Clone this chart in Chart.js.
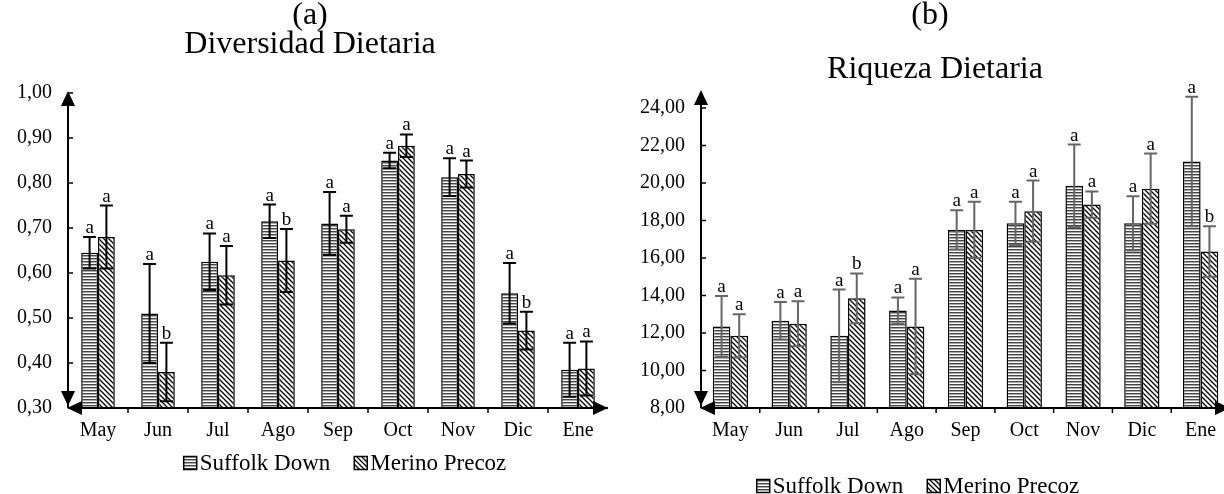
<!DOCTYPE html>
<html>
<head>
<meta charset="utf-8">
<script src="https://cdn.jsdelivr.net/npm/chart.js@4.4.1/dist/chart.umd.min.js"></script>
<style>
html, body { margin: 0; padding: 0; background: #fff; overflow: hidden; width: 1224px; height: 494px; }
#wa { position: absolute; left: 0; top: 0; width: 620px; height: 494px; }
#wb { position: absolute; left: 620px; top: 0; width: 630px; height: 494px; }
</style>
</head>
<body>
<div id="wa"><canvas id="chartA" width="620" height="494"></canvas></div>
<div id="wb"><canvas id="chartB" width="630" height="494"></canvas></div>
<script>
var months = ['May', 'Jun', 'Jul', 'Ago', 'Sep', 'Oct', 'Nov', 'Dic', 'Ene'];
var seriesNames = ['Suffolk Down', 'Merino Precoz'];

// (a) Diversidad Dietaria
var divTicks = [0.30, 0.40, 0.50, 0.60, 0.70, 0.80, 0.90, 1.00];
var divSuffolk = [0.645, 0.51, 0.625, 0.715, 0.71, 0.85, 0.813, 0.555, 0.385];
var divSuffolkErr = [0.035, 0.11, 0.063, 0.037, 0.07, 0.017, 0.042, 0.067, 0.06];
var divMerino = [0.68, 0.38, 0.595, 0.628, 0.697, 0.883, 0.82, 0.472, 0.388];
var divMerinoErr = [0.07, 0.065, 0.065, 0.07, 0.03, 0.025, 0.03, 0.042, 0.06];
var divSuffolkLetters = ['a', 'a', 'a', 'a', 'a', 'a', 'a', 'a', 'a'];
var divMerinoLetters = ['a', 'b', 'a', 'b', 'a', 'a', 'a', 'b', 'a'];

// (b) Riqueza Dietaria
var riqTicks = [8, 10, 12, 14, 16, 18, 20, 22, 24];
var riqSuffolk = [12.35, 12.65, 11.85, 13.2, 17.5, 17.85, 19.85, 17.85, 21.15];
var riqSuffolkErr = [1.63, 1.0, 2.47, 0.7, 1.05, 1.15, 2.2, 1.45, 3.45];
var riqMerino = [11.85, 12.5, 13.85, 12.35, 17.5, 18.5, 18.85, 19.7, 16.35];
var riqMerinoErr = [1.15, 1.2, 1.33, 2.55, 1.5, 1.63, 0.7, 1.87, 1.35];
var riqSuffolkLetters = ['a', 'a', 'a', 'a', 'a', 'a', 'a', 'a', 'a'];
var riqMerinoLetters = ['a', 'a', 'b', 'a', 'a', 'a', 'a', 'a', 'b'];

var serif = '"Liberation Serif", "Times New Roman", serif';

function stripePattern() {
    var c = document.createElement('canvas');
    c.width = 4; c.height = 3;
    var g = c.getContext('2d');
    g.fillStyle = '#fff';
    g.fillRect(0, 0, 4, 3);
    g.fillStyle = '#444';
    g.fillRect(0, 0, 4, 1);
    g.fillStyle = '#aaa';
    g.fillRect(0, 1, 4, 1);
    return g.createPattern(c, 'repeat');
}

function hatchPattern() {
    var s = 5;
    var c = document.createElement('canvas');
    c.width = s; c.height = s;
    var g = c.getContext('2d');
    g.fillStyle = '#fff';
    g.fillRect(0, 0, s, s);
    g.strokeStyle = '#000';
    g.lineWidth = 1.3;
    g.beginPath();
    g.moveTo(-1, -1); g.lineTo(s + 1, s + 1);
    g.moveTo(-1, s - 1); g.lineTo(1, s + 1);
    g.moveTo(s - 1, -1); g.lineTo(s + 1, 1);
    g.stroke();
    return g.createPattern(c, 'repeat');
}

function arrow(ctx, x, y, dir) {
    // (x,y) is the tip
    var len = 15, hw = 7;
    ctx.beginPath();
    ctx.moveTo(x, y);
    if (dir === 'up') { ctx.lineTo(x - hw, y + len); ctx.lineTo(x + hw, y + len); }
    if (dir === 'down') { ctx.lineTo(x - hw, y - len); ctx.lineTo(x + hw, y - len); }
    if (dir === 'left') { ctx.lineTo(x + len, y - hw); ctx.lineTo(x + len, y + hw); }
    if (dir === 'right') { ctx.lineTo(x - len, y - hw); ctx.lineTo(x - len, y + hw); }
    ctx.closePath();
    ctx.fill();
}

var extrasPlugin = {
    id: 'extras',
    afterDatasetsDraw: function (chart, args, opts) {
        var ctx = chart.ctx;
        var y = chart.scales.y;
        ctx.save();
        // error bars + letters
        chart.data.datasets.forEach(function (ds, di) {
            var meta = chart.getDatasetMeta(di);
            meta.data.forEach(function (bar, i) {
                var v = ds.data[i], e = ds.errors[i];
                var yt = y.getPixelForValue(v + e), yb = y.getPixelForValue(v - e);
                ctx.strokeStyle = opts.errColor;
                ctx.lineWidth = 2;
                ctx.beginPath();
                ctx.moveTo(bar.x, yt); ctx.lineTo(bar.x, yb);
                ctx.moveTo(bar.x - 6.5, yt); ctx.lineTo(bar.x + 6.5, yt);
                ctx.moveTo(bar.x - 6.5, yb); ctx.lineTo(bar.x + 6.5, yb);
                ctx.stroke();
                ctx.fillStyle = '#000';
                ctx.font = '19px ' + serif;
                ctx.textAlign = 'center';
                ctx.textBaseline = 'alphabetic';
                ctx.fillText(ds.letters[i], bar.x, yt - 4);
            });
        });
        ctx.restore();
    },
    afterDraw: function (chart, args, opts) {
        var ctx = chart.ctx;
        var a = chart.chartArea;
        var ys = chart.scales.y;
        ctx.save();
        ctx.strokeStyle = '#000';
        ctx.fillStyle = '#000';
        ctx.lineWidth = 2;
        // axis lines with arrow heads
        ctx.beginPath();
        ctx.moveTo(a.left, a.top - opts.topExtra);
        ctx.lineTo(a.left, a.bottom);
        ctx.moveTo(a.left, a.bottom);
        ctx.lineTo(a.right, a.bottom);
        ctx.stroke();
        arrow(ctx, a.left, a.top - opts.topExtra - 2, 'up');
        arrow(ctx, a.left, a.bottom - 2, 'down');
        arrow(ctx, a.left - 1, a.bottom, 'left');
        arrow(ctx, a.right, a.bottom, 'right');
        // tick marks
        ctx.lineWidth = 1.5;
        ctx.beginPath();
        ys.ticks.forEach(function (t) {
            var py = ys.getPixelForValue(t.value);
            ctx.moveTo(a.left, py); ctx.lineTo(a.left + 5, py);
        });
        var w = (a.right - a.left) / months.length;
        for (var i = 1; i < months.length; i++) {
            var px = a.left + i * w;
            ctx.moveTo(px, a.bottom); ctx.lineTo(px, a.bottom + 5);
        }
        ctx.stroke();
        // titles
        ctx.textAlign = 'center';
        ctx.textBaseline = 'middle';
        ctx.font = opts.titleSize + 'px ' + serif;
        opts.titles.forEach(function (t) { ctx.fillText(t.text, t.x, t.y); });
        // legend
        ctx.font = opts.legendSize + 'px ' + serif;
        var box = 13, gap = 3, spacing = 24;
        var items = chart.data.datasets;
        var widths = items.map(function (d) { return box + gap + ctx.measureText(d.label).width; });
        var total = widths.reduce(function (s, v) { return s + v; }, 0) + spacing * (items.length - 1);
        var lx = opts.legendX - total / 2, ly = opts.legendY;
        items.forEach(function (d, k) {
            ctx.fillStyle = d.backgroundColor;
            ctx.fillRect(lx, ly - box / 2, box, box);
            ctx.lineWidth = 1.5;
            ctx.strokeRect(lx, ly - box / 2, box, box);
            ctx.fillStyle = '#000';
            ctx.textAlign = 'left';
            ctx.fillText(d.label, lx + box + gap, ly + 1);
            lx += widths[k] + spacing;
        });
        ctx.restore();
    }
};

function makeChart(id, cfg) {
    var W = cfg.width, H = 494;
    var font = { family: serif, size: 20 };
    return new Chart(document.getElementById(id), {
        type: 'bar',
        data: {
            labels: months,
            datasets: [
                { label: seriesNames[0], data: cfg.s, errors: cfg.se, letters: cfg.sl,
                  backgroundColor: stripePattern(), borderColor: '#000', borderWidth: 1.5 },
                { label: seriesNames[1], data: cfg.m, errors: cfg.me, letters: cfg.ml,
                  backgroundColor: hatchPattern(), borderColor: '#000', borderWidth: 1.5 }
            ]
        },
        options: {
            responsive: false,
            animation: false,
            layout: { padding: { top: cfg.top, right: W - cfg.right, left: 0, bottom: 0 } },
            datasets: { bar: { barPercentage: 1, categoryPercentage: cfg.catPct } },
            plugins: {
                legend: { display: false },
                title: { display: false },
                tooltip: { enabled: false },
                extras: {
                    errColor: cfg.errColor, topExtra: cfg.topExtra,
                    titles: cfg.titles, titleSize: 32,
                    legendX: cfg.legendX, legendY: cfg.legendY, legendSize: 23
                }
            },
            scales: {
                x: {
                    grid: { display: false, drawTicks: false },
                    border: { display: false },
                    ticks: { font: font, color: '#000', padding: 11, maxRotation: 0, autoSkip: false },
                    afterFit: function (s) { s.height = H - cfg.bottom; }
                },
                y: {
                    min: cfg.ticks[0], max: cfg.ticks[cfg.ticks.length - 1],
                    grid: { display: false, drawTicks: false },
                    border: { display: false },
                    afterBuildTicks: function (s) { s.ticks = cfg.ticks.map(function (v) { return { value: v }; }); },
                    ticks: {
                        font: font, color: '#000', padding: 16,
                        callback: function (v) { return Number(v).toFixed(2).replace('.', ','); }
                    },
                    afterFit: function (s) { s.width = cfg.left; }
                }
            }
        },
        plugins: [extrasPlugin]
    });
}

makeChart('chartA', {
    width: 620, left: 68, right: 608, top: 93, bottom: 408, catPct: 0.56,
    s: divSuffolk, se: divSuffolkErr, sl: divSuffolkLetters,
    m: divMerino, me: divMerinoErr, ml: divMerinoLetters,
    ticks: divTicks, errColor: '#000', topExtra: 0,
    titles: [{ text: '(a)', x: 310, y: 16 }, { text: 'Diversidad Dietaria', x: 310, y: 45 }],
    legendX: 345, legendY: 463
});

makeChart('chartB', {
    width: 630, left: 81, right: 610, top: 108, bottom: 408, catPct: 0.6,
    s: riqSuffolk, se: riqSuffolkErr, sl: riqSuffolkLetters,
    m: riqMerino, me: riqMerinoErr, ml: riqMerinoLetters,
    ticks: riqTicks, errColor: '#666', topExtra: 16,
    titles: [{ text: '(b)', x: 310, y: 16 }, { text: 'Riqueza Dietaria', x: 315, y: 70 }],
    legendX: 298, legendY: 486
});
</script>
</body>
</html>
